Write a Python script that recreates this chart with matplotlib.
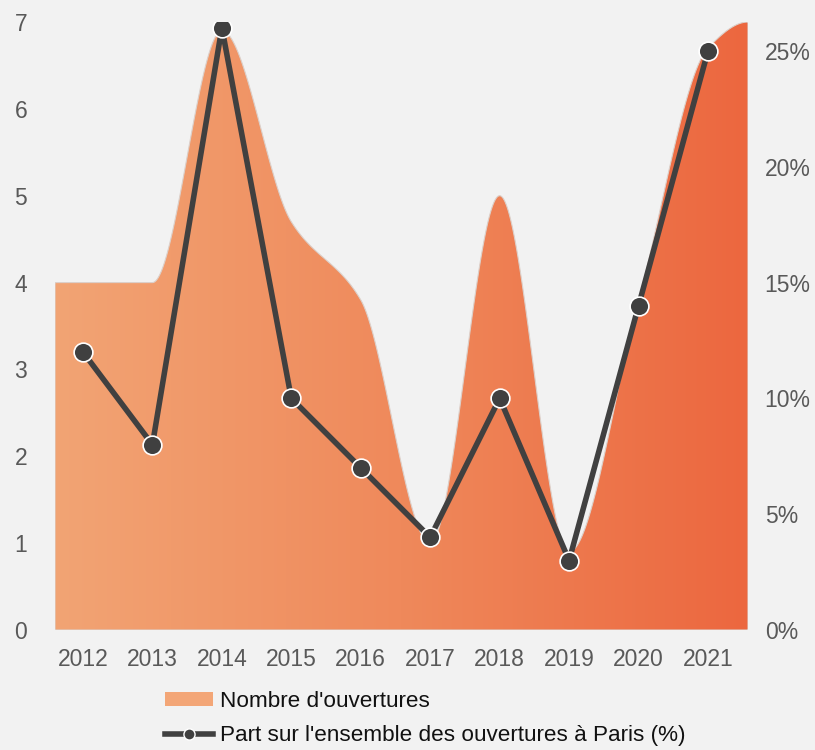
import numpy as np
import matplotlib
matplotlib.use("Agg")
import matplotlib.pyplot as plt
from matplotlib.colors import LinearSegmentedColormap
from matplotlib.patches import Polygon, Patch
from matplotlib.lines import Line2D

plt.rcParams['font.family'] = ['Liberation Sans', 'DejaVu Sans']

# data
annees = ['2012', '2013', '2014', '2015', '2016', '2017', '2018', '2019', '2020', '2021']
ouvertures = [4, 4, 6.9, 4.7, 3.8, 1, 5, 0.9, 3.8, 6.7]
ouvertures_bords = (4, 7)   # value of the area at the left / right plot edges
part_paris = [12, 8, 26, 10, 7, 4, 10, 3, 14, 25]
pct_ticks = [0, 5, 10, 15, 20, 25]

bg = '#f2f2f2'
gris_txt = '#595959'
gris_ligne = '#404040'


def pchip(x, y, xs):
    # monotone cubic, flat ends
    x = np.asarray(x, float)
    y = np.asarray(y, float)
    h = np.diff(x)
    d = np.diff(y) / h
    m = np.zeros_like(y)
    for k in range(1, len(y) - 1):
        if d[k - 1] * d[k] > 0:
            w1 = 2 * h[k] + h[k - 1]
            w2 = h[k] + 2 * h[k - 1]
            m[k] = (w1 + w2) / (w1 / d[k - 1] + w2 / d[k])
    idx = np.clip(np.searchsorted(x, xs) - 1, 0, len(x) - 2)
    t = (xs - x[idx]) / h[idx]
    h00 = 2 * t**3 - 3 * t**2 + 1
    h10 = t**3 - 2 * t**2 + t
    h01 = -2 * t**3 + 3 * t**2
    h11 = t**3 - t**2
    return h00 * y[idx] + h10 * h[idx] * m[idx] + h01 * y[idx + 1] + h11 * h[idx] * m[idx + 1]


fig = plt.figure(figsize=(8.15, 7.5), dpi=100, facecolor=bg)
ax = fig.add_axes([55 / 815, 1 - 630 / 750, (748 - 55) / 815, (630 - 22) / 750])
ax.set_facecolor(bg)

x0, x1 = -0.403, 9.576
pos = np.arange(len(annees))

# smoothed area with horizontal gradient
px = np.r_[x0, pos, x1]
py = np.r_[ouvertures_bords[0], ouvertures, ouvertures_bords[1]]
xs = np.linspace(x0, x1, 1200)
ys = pchip(px, py, xs)
verts = np.column_stack([np.r_[xs, xs[::-1]], np.r_[ys, np.zeros_like(ys)]])
zone = Polygon(verts, closed=True, facecolor='none', edgecolor='#dcd0ca', lw=0.8, zorder=2)
ax.add_patch(zone)
cmap = LinearSegmentedColormap.from_list('deg', ['#f2a474', '#ef895b', '#ec673f'])
grad = np.linspace(0, 1, 256).reshape(1, -1)
im = ax.imshow(grad, extent=[x0, x1, 0, 7], aspect='auto', cmap=cmap, zorder=1,
               interpolation='bilinear')
im.set_clip_path(zone)

ax.set_xlim(x0, x1)
ax.set_ylim(0, 7)
ax.set_xticks(pos, annees)
ax.set_yticks(range(8))
ax.tick_params(axis='x', length=0, pad=13, labelsize=16.5, labelcolor=gris_txt)
ax.tick_params(axis='y', length=0, pad=20, labelsize=16.5, labelcolor=gris_txt)
for s in ax.spines.values():
    s.set_visible(False)

# line on secondary axis
ax2 = ax.twinx()
ax2.patch.set_visible(False)
ax2.plot(pos, part_paris, color=gris_ligne, lw=4, marker='o', ms=13.5,
         mfc=gris_ligne, mec='white', mew=1.2, zorder=3)
ax2.set_ylim(0, 26.25)
ax2.set_yticks(pct_ticks, [f'{v}%' for v in pct_ticks])
ax2.tick_params(axis='y', length=0, pad=12, labelsize=16.5, labelcolor=gris_txt)
for s in ax2.spines.values():
    s.set_visible(False)

handles = [Patch(facecolor='#f3a677', edgecolor='none'),
           Line2D([], [], color=gris_ligne, lw=4, marker='o', ms=8,
                  mfc=gris_ligne, mec='white', mew=1)]
labels = ["Nombre d'ouvertures", "Part sur l'ensemble des ouvertures à Paris (%)"]
leg = fig.legend(handles, labels, loc='upper left', bbox_to_anchor=(165 / 815, 1 - 691 / 750),
                 frameon=False, fontsize=16.2, handlelength=2.15, handleheight=0.55,
                 handletextpad=0.3, labelspacing=0.6, borderpad=0, borderaxespad=0)
for t in leg.get_texts():
    t.set_color('#111111')

fig.savefig('out.png', dpi=100, facecolor=bg)
